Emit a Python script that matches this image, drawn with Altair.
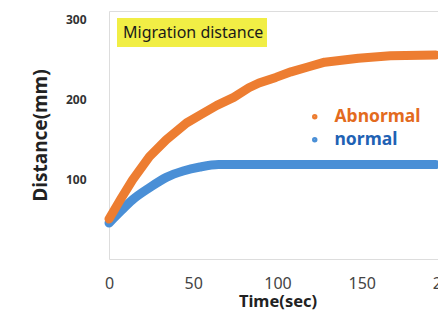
import altair as alt
import pandas as pd

# ---- data ----
abnormal_time = [0, 7, 14, 24, 34, 46, 55, 64, 74, 83, 89, 99, 108, 118, 128, 148, 167, 194]
abnormal_dist = [50, 75, 99, 128, 149, 170, 181, 192, 202, 214, 220, 227, 234, 240, 246, 251, 254, 255]

normal_time = [0, 7, 14, 24, 34, 44, 54, 65, 100, 150, 194]
normal_dist = [45, 60, 74, 89, 102, 110, 115, 118, 118, 118, 118]

series_names = ["Abnormal", "normal"]
series_colors = ["#ED7D31", "#4A8FD6"]
label_colors = ["#E36B1E", "#1F62B4"]

x_ticks = [0, 50, 100, 150, 200]
y_ticks = [100, 200, 300]
chart_title = ["Migration distance"]

df = pd.concat([
    pd.DataFrame({"time": abnormal_time, "distance": abnormal_dist, "series": series_names[0]}),
    pd.DataFrame({"time": normal_time, "distance": normal_dist, "series": series_names[1]}),
])

color_scale = alt.Scale(domain=series_names, range=series_colors)

label_expr = "datum.label == '%s' ? '%s' : '%s'" % (series_names[0], label_colors[0], label_colors[1])

base = alt.Chart(df).encode(
    x=alt.X("time:Q",
            scale=alt.Scale(domain=[0, 200], nice=False),
            axis=alt.Axis(values=x_ticks, title="Time(sec)", grid=False, domain=False, ticks=False,
                          labelFlush=False, labelOverlap=False,
                          labelFontSize=16, labelColor="#444444", labelFont="Noto Sans",
                          labelPadding=16, titleFont="Noto Sans", titleFontSize=16.5,
                          titleFontWeight="bold", titleColor="#222222", titlePadding=2)),
    y=alt.Y("distance:Q",
            scale=alt.Scale(domain=[0, 310], nice=False),
            axis=alt.Axis(values=y_ticks, title="Distance(mm)", grid=False, domain=False, ticks=False,
                          labelFontSize=12, labelFontWeight="bold", labelColor="#333333",
                          labelFont="Noto Sans", labelPadding=23, titleFont="Noto Sans",
                          titleFontSize=19, titleFontWeight="bold", titleColor="#222222",
                          titlePadding=15)),
    color=alt.Color("series:N", scale=color_scale,
                    legend=alt.Legend(title=None, orient="none", legendX=197, legendY=97,
                                      symbolType="circle", symbolSize=6, symbolStrokeWidth=3,
                                      labelFont="Noto Sans", labelFontSize=17.5, labelFontWeight="bold",
                                      labelColor=alt.ExprRef(label_expr), labelOffset=11,
                                      rowPadding=4, padding=0)),
)

normal_line = base.transform_filter(alt.datum.series == series_names[1]).mark_line(
    strokeWidth=9, strokeCap="round", strokeJoin="round", interpolate="monotone")
abnormal_line = base.transform_filter(alt.datum.series == series_names[0]).mark_line(
    strokeWidth=9, strokeCap="round", strokeJoin="round")

title_df = pd.DataFrame({"label": chart_title})
title_box = alt.Chart(title_df).mark_rect(color="#F1EE45").encode(
    x=alt.value(8), x2=alt.value(158), y=alt.value(7), y2=alt.value(36))
title_text = alt.Chart(title_df).mark_text(
    align="left", baseline="middle", font="Noto Sans", fontSize=16, color="#1a1a1a"
).encode(text="label:N", x=alt.value(14), y=alt.value(22))

chart = alt.layer(title_box, title_text, normal_line, abnormal_line).properties(
    width=337, height=248,
    padding={"left": 101, "top": 3, "right": -8, "bottom": 52},
    autosize=alt.AutoSizeParams(type="none"),
).configure_view(stroke="#e6e6e6").configure(background="white")

chart.save("out.html", embed_options={"renderer": "svg", "actions": False})
